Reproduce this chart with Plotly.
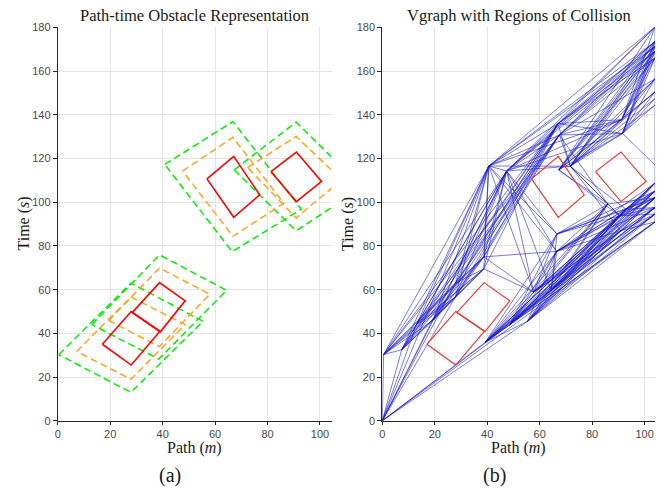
import plotly.graph_objects as go

# ---------------- Panel (a): obstacle polygons (path m, time s) ----------------
red1_path = [17.0, 28.0, 39.0, 28.0]
red1_time = [35.0, 50.0, 41.0, 25.5]
red2_path = [28.4, 38.8, 48.6, 39.1]
red2_time = [49.5, 63.2, 54.9, 40.7]
red3_path = [56.9, 67.1, 77.0, 67.1]
red3_time = [110.7, 121.0, 103.4, 93.1]
red4_path = [81.3, 91.0, 100.6, 91.0]
red4_time = [114.0, 123.0, 109.5, 100.3]

org1_path = [7.2, 27.9, 48.6, 27.9]
org1_time = [31.7, 56.7, 44.0, 19.0]
org2_path = [19.4, 38.8, 58.0, 38.7]
org2_time = [45.9, 69.9, 57.9, 33.9]
org3_path = [47.6, 66.8, 86.2, 66.8]
org3_time = [114.3, 129.7, 99.5, 84.4]
org4_path = [72.4, 90.9, 108.3, 90.9]
org4_time = [115.9, 130.1, 110.3, 92.8]

grn1_path = [0.4, 27.9, 55.4, 27.9]
grn1_time = [30.2, 63.0, 45.5, 13.0]
grn2_path = [13.0, 38.8, 64.4, 38.5]
grn2_time = [44.0, 75.9, 59.7, 28.2]
grn3_path = [40.8, 66.8, 92.9, 66.5]
grn3_time = [117.3, 136.9, 96.8, 77.4]
grn4_path = [67.3, 90.9, 116.1, 90.9]
grn4_time = [114.8, 136.7, 106.8, 86.9]

# ---------------- Panel (b): visibility-graph nodes and edges ----------------
node_names = ["S", "A", "B", "C", "D", "E", "F", "G", "H", "I", "K", "L", "M", "N",
              "P", "Q", "R", "T", "U", "V", "W", "X", "Y", "Z", "AA", "AB", "AC", "AD"]
node_path = [0.0, 0.5, 7.4, 13.0, 19.4, 27.9, 27.9, 38.7, 38.7, 39.3, 48.6, 55.4, 57.7, 64.4,
             40.6, 47.4, 67.0, 67.5, 86.0, 92.9, 66.6, 66.5, 67.3, 71.7, 91.3, 91.6, 90.5, 90.9]
node_time = [0.0, 30.3, 32.5, 44.0, 46.0, 63.0, 56.7, 75.0, 69.5, 36.0, 44.0, 45.5, 58.9, 59.7,
             116.6, 114.3, 136.0, 130.8, 99.2, 96.8, 85.5, 77.5, 114.8, 116.5, 137.8, 131.5, 93.8, 87.0]

goal_names = ["t180", "t174", "t171", "t169", "t166", "t157", "t151", "t148", "t145",
              "t117", "t109", "t105", "t102", "t98", "t95", "t91"]
goal_time = [180.3, 173.6, 171.4, 169.1, 166.1, 156.5, 150.5, 147.5, 144.5,
             117.0, 108.8, 105.1, 102.1, 97.6, 94.6, 91.0]
goal_path = 104.0

edge_lists = [
    "S: A B C D E F P Q I K L t91",
    "A: B C D E F G H P Q R T",
    "B: C D E F G H P Q R T",
    "C: E F G H P Q R T",
    "D: E F G H P Q R T",
    "E: G H P Q R T",
    "F: G H P Q R T",
    "G: P Q R T M X",
    "H: P Q R M",
    "I: K L M N W X U V AC AD t91 t95 t98 t102 t105 t109",
    "K: M N W X U V AC AD t91 t95 t98 t102 t105 t109",
    "L: N X U V AC AD t91 t95 t98 t102 t105 t109",
    "M: Q P W X U V AC AD t95 t98 t102 t105 t109",
    "N: Q W X U V AC AD t95 t98 t102 t105 t109",
    "P: R T Q W X Z AA t180 t174 t171",
    "Q: R T W X Z AA AB t180 t174 t171 t169",
    "R: AA AB Z t180 t174 t171 t169 t166",
    "T: AA AB Z U t174 t171 t169 t166 t157",
    "W: U V AC t102 t105",
    "X: U V AC AD t98 t102 t105 t109",
    "U: Y Z AC t102",
    "V: t98 t102 t105 t109",
    "AC: t95 t98 t102 t105 t109",
    "AD: t91 t95 t98 t102",
    "Y: AA AB AC t180 t174 t171 t169 t166 t157 t151",
    "Z: AA AB AC AD V t174 t171 t169 t166 t157 t151 t148 t145",
    "AA: t180 t174 t171 t169 t166 t157 t151",
    "AB: t174 t171 t169 t166 t157 t151 t148 t145 t117",
]

# ---------------- helpers ----------------
W, H = 671, 497
def px(x):
    return x / W
def py(y):
    return 1 - y / H

def closed(v):
    return list(v) + [v[0]]

fig = go.Figure()

DASH = "7px,4px"
GREEN = "#00ee00"
ORANGE = "#ffa31a"
RED = "#ff0000"

def poly(xs, ys, color, width, dash, xa, ya):
    fig.add_trace(go.Scatter(x=closed(xs), y=closed(ys), mode="lines",
                             line=dict(color=color, width=width, dash=dash),
                             xaxis=xa, yaxis=ya, showlegend=False, hoverinfo="skip"))

for xs, ys in [(grn1_path, grn1_time), (grn2_path, grn2_time), (grn3_path, grn3_time), (grn4_path, grn4_time)]:
    poly(xs, ys, GREEN, 1.5, DASH, "x", "y")
for xs, ys in [(org1_path, org1_time), (org2_path, org2_time), (org3_path, org3_time), (org4_path, org4_time)]:
    poly(xs, ys, ORANGE, 1.5, DASH, "x", "y")
for xs, ys in [(red1_path, red1_time), (red2_path, red2_time), (red3_path, red3_time), (red4_path, red4_time)]:
    poly(xs, ys, RED, 1.6, "solid", "x", "y")

# panel (b) edges
pos = {n: (x, y) for n, x, y in zip(node_names, node_path, node_time)}
for n, t in zip(goal_names, goal_time):
    pos[n] = (goal_path, t)
ex, ey = [], []
for line in edge_lists:
    src, tgts = line.split(":")
    for tg in tgts.split():
        ex += [pos[src][0], pos[tg][0], None]
        ey += [pos[src][1], pos[tg][1], None]
ex += [goal_path, goal_path, None]
ey += [min(goal_time), max(goal_time), None]
fig.add_trace(go.Scatter(x=ex, y=ey, mode="lines",
                         line=dict(color="rgba(25,25,200,0.72)", width=0.8),
                         xaxis="x2", yaxis="y2", showlegend=False, hoverinfo="skip"))
for xs, ys in [(red1_path, red1_time), (red2_path, red2_time), (red3_path, red3_time), (red4_path, red4_time)]:
    poly(xs, ys, "#e8302a", 1.1, "solid", "x2", "y2")

# ---------------- axes ----------------
tickfont = dict(family="Liberation Sans, Arial", size=11, color="#4a4a4a")
common_x = dict(range=[0, 104.4], tickvals=[0, 20, 40, 60, 80, 100], showgrid=True,
                gridcolor="#e4e4e4", gridwidth=1, showline=True, linecolor="#262626",
                linewidth=1, ticks="outside", ticklen=3, tickcolor="#262626",
                tickfont=tickfont, zeroline=False, fixedrange=True)
common_y = dict(range=[0, 180], tickvals=list(range(0, 181, 20)), showgrid=True,
                gridcolor="#e4e4e4", gridwidth=1, showline=True, linecolor="#262626",
                linewidth=1, ticks="outside", ticklen=4, tickcolor="#262626",
                tickfont=tickfont, zeroline=False, fixedrange=True)

y_dom = [py(425), py(22)]
fig.update_layout(
    width=W, height=H, margin=dict(l=0, r=0, t=0, b=0),
    paper_bgcolor="white", plot_bgcolor="white",
    xaxis=dict(domain=[px(55), px(330)], anchor="y", **common_x),
    yaxis=dict(domain=y_dom, anchor="x", **common_y),
    xaxis2=dict(domain=[px(381), px(655)], anchor="y2", **dict(common_x, range=[0, 104])),
    yaxis2=dict(domain=y_dom, anchor="x2", **common_y),
)

serif = "Liberation Serif, DejaVu Serif, serif"
ann = [
    dict(text="Path-time Obstacle Representation", x=px(192), y=py(10), size=16.5),
    dict(text="Vgraph with Regions of Collision", x=px(518), y=py(10), size=16.5),
    dict(text="Path (<i>m</i>)", x=px(192), y=py(453), size=16),
    dict(text="Path (<i>m</i>)", x=px(518), y=py(453), size=16),
    dict(text="(a)", x=px(168), y=py(481), size=20),
    dict(text="(b)", x=px(494), y=py(481), size=20),
]
for a in ann:
    fig.add_annotation(text=a["text"], x=a["x"], y=a["y"], xref="paper", yref="paper",
                       showarrow=False, xanchor="center", yanchor="middle",
                       font=dict(family=serif, size=a["size"], color="#1a1a1a"))
for xx in (21, 346):
    fig.add_annotation(text="Time (<i>s</i>)", x=px(xx), y=py(223), xref="paper", yref="paper",
                       showarrow=False, xanchor="center", yanchor="middle", textangle=-90,
                       font=dict(family=serif, size=16, color="#1a1a1a"))

fig.write_html(
    "out.html",
    config={"displayModeBar": False, "responsive": False},
    post_script=("document.documentElement.style.margin='0px';"
                 "document.documentElement.style.overflow='hidden';"
                 "document.body.style.margin='0px';"
                 "document.body.style.overflow='hidden';"),
)
